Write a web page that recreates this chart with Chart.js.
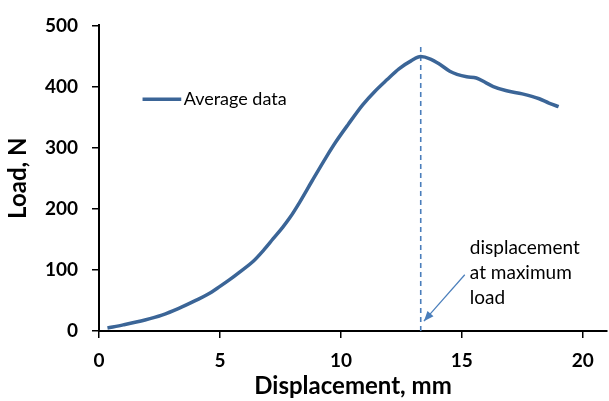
<!DOCTYPE html>
<html>
<head>
<meta charset="utf-8">
<script src="https://cdn.jsdelivr.net/npm/chart.js@4.4.1/dist/chart.umd.min.js"></script>
<style>
  html, body { margin: 0; padding: 0; background: #fff; }
  #wrap { width: 609px; height: 401px; position: relative; }
</style>
</head>
<body>
<div id="wrap"><canvas id="loadChart" width="609" height="401"></canvas></div>
<script>
"use strict";

// Data
const displacement = [0.35, 1.0, 1.9, 2.6, 3.3, 4.0, 4.5, 5.0, 5.4, 5.8, 6.4, 6.8, 7.2, 7.6, 7.9,
    8.3, 8.8, 9.4, 9.8, 10.3, 10.9, 11.4, 11.9, 12.4, 12.9, 13.3, 13.7, 14.1, 14.5, 14.8,
    15.2, 15.6, 16.0, 16.3, 16.85, 17.5, 18.2, 18.6, 19.0];
const load = [5, 10, 18, 26, 37, 50, 60, 73, 84, 96, 115, 132, 151, 170, 186,
    211, 245, 285, 310, 338, 370, 392, 411, 429, 442, 449, 445, 436, 425, 420,
    416, 414, 406, 400, 393, 388, 380, 373, 367];
const maxLoadX = [13.3, 13.3];
const maxLoadY = [0, 468];
const xTicks = [0, 5, 10, 15, 20];
const yTicks = [0, 100, 200, 300, 400, 500];
const legendLabel = "Average data";
const noteLines = ["displacement", "at maximum", "load"];

// Styles
const LINE_COLOR = "#3b6597";
const DASH_COLOR = "#4a7ebb";
const FONT = "Lato, 'Open Sans', sans-serif";

// Overlay: legend inside plot + annotation with arrow
const overlayPlugin = {
    id: "overlay",
    afterDatasetsDraw(chart) {
        const c = chart.ctx;
        const xs = chart.scales.x;
        const ys = chart.scales.y;

        // legend
        const ly = ys.getPixelForValue(379);
        c.save();
        c.strokeStyle = LINE_COLOR;
        c.lineWidth = 3.5;
        c.beginPath();
        c.moveTo(xs.getPixelForValue(1.8), ly);
        c.lineTo(xs.getPixelForValue(3.4), ly);
        c.stroke();
        c.fillStyle = "#000";
        c.font = "18px " + FONT;
        c.textBaseline = "middle";
        c.fillText(legendLabel, xs.getPixelForValue(3.5), ly);

        // annotation text
        c.font = "19px " + FONT;
        const tx = xs.getPixelForValue(15.33);
        [136, 95, 55].forEach((v, i) => {
            c.fillText(noteLines[i], tx, ys.getPixelForValue(v));
        });

        // arrow
        const x1 = xs.getPixelForValue(15.12), y1 = ys.getPixelForValue(92);
        const x2 = xs.getPixelForValue(13.43), y2 = ys.getPixelForValue(16);
        c.strokeStyle = DASH_COLOR;
        c.fillStyle = DASH_COLOR;
        c.lineWidth = 1.2;
        c.beginPath();
        c.moveTo(x1, y1);
        c.lineTo(x2, y2);
        c.stroke();
        const ang = Math.atan2(y2 - y1, x2 - x1);
        const hl = 10, hw = 4;
        c.beginPath();
        c.moveTo(x2, y2);
        c.lineTo(x2 - hl * Math.cos(ang) + hw * Math.sin(ang), y2 - hl * Math.sin(ang) - hw * Math.cos(ang));
        c.lineTo(x2 - hl * Math.cos(ang) - hw * Math.sin(ang), y2 - hl * Math.sin(ang) + hw * Math.cos(ang));
        c.closePath();
        c.fill();
        c.restore();
    }
};

const ctx = document.getElementById("loadChart").getContext("2d");
new Chart(ctx, {
    type: "scatter",
    data: {
        datasets: [
            {
                label: legendLabel,
                data: displacement.map((x, i) => ({ x: x, y: load[i] })),
                showLine: true,
                borderColor: LINE_COLOR,
                borderWidth: 3.5,
                pointRadius: 0,
                cubicInterpolationMode: "monotone"
            },
            {
                label: "max",
                data: maxLoadX.map((x, i) => ({ x: x, y: maxLoadY[i] })),
                showLine: true,
                borderColor: DASH_COLOR,
                borderWidth: 1.6,
                borderDash: [5, 4],
                pointRadius: 0
            }
        ]
    },
    options: {
        responsive: false,
        animation: false,
        layout: { padding: { top: 22, right: 2, left: 0, bottom: 0 } },
        plugins: { legend: { display: false }, tooltip: { enabled: false } },
        scales: {
            x: {
                type: "linear",
                min: 0,
                max: 21,
                afterBuildTicks: (s) => { s.ticks = xTicks.map(v => ({ value: v })); },
                afterFit: (s) => { s.height = 70; },
                border: { display: true, color: "#000", width: 2 },
                grid: { drawOnChartArea: false, drawTicks: true, tickLength: 7, color: "#000", lineWidth: 1.5 },
                ticks: { color: "#000", padding: 11, font: { family: FONT, size: 19, weight: "bold" } },
                title: {
                    display: true,
                    text: "Displacement, mm",
                    color: "#000",
                    padding: { top: 0, bottom: 0 },
                    font: { family: FONT, size: 24, weight: "bold" }
                }
            },
            y: {
                type: "linear",
                min: 0,
                max: 500,
                afterBuildTicks: (s) => { s.ticks = yTicks.map(v => ({ value: v })); },
                afterFit: (s) => { s.width = 99; },
                border: { display: true, color: "#000", width: 2 },
                grid: { drawOnChartArea: false, drawTicks: true, tickLength: 7, color: "#000", lineWidth: 1.5 },
                ticks: { color: "#000", padding: 14, font: { family: FONT, size: 19, weight: "bold" } },
                title: {
                    display: true,
                    text: "Load, N",
                    color: "#000",
                    padding: { top: 4, bottom: 0 },
                    font: { family: FONT, size: 24, weight: "bold" }
                }
            }
        }
    },
    plugins: [overlayPlugin]
});
</script>
</body>
</html>
